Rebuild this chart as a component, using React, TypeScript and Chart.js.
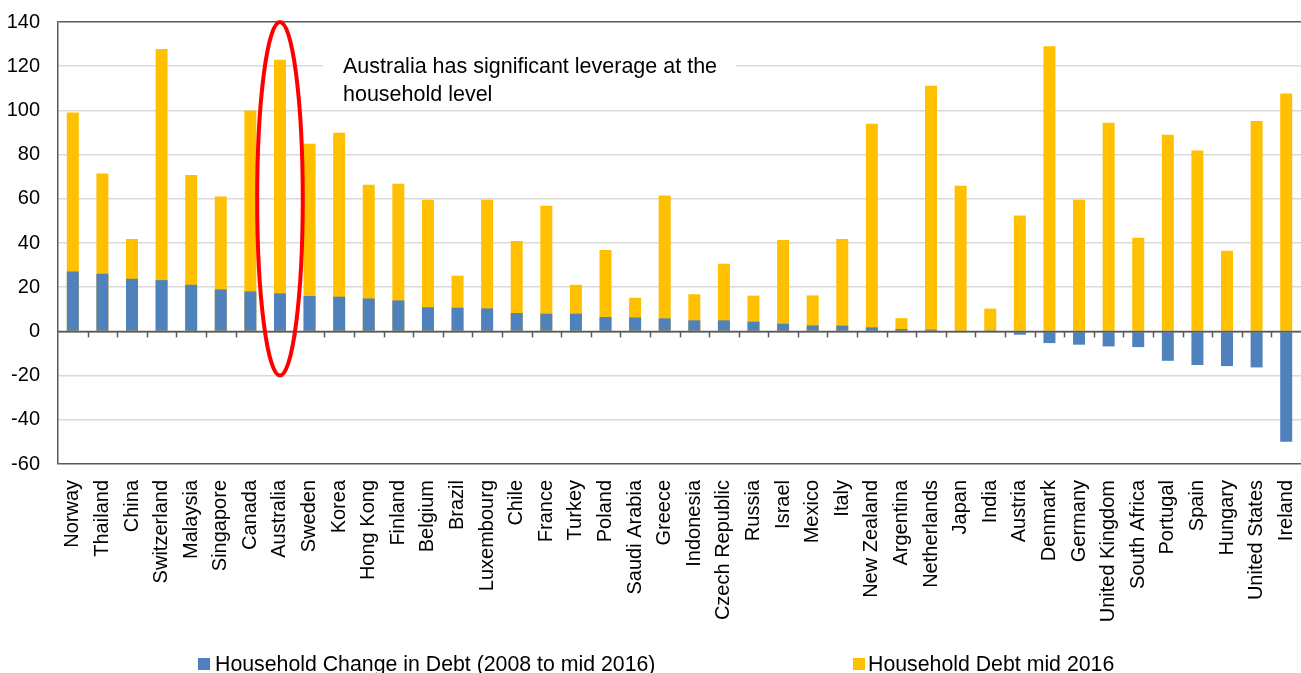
import React, { useEffect, useRef } from "react";
import { Chart, registerables } from "chart.js";

Chart.register(...registerables);

const countries = [
  "Norway", "Thailand", "China", "Switzerland", "Malaysia", "Singapore", "Canada", "Australia",
  "Sweden", "Korea", "Hong Kong", "Finland", "Belgium", "Brazil", "Luxembourg", "Chile",
  "France", "Turkey", "Poland", "Saudi Arabia", "Greece", "Indonesia", "Czech Republic", "Russia",
  "Israel", "Mexico", "Italy", "New Zealand", "Argentina", "Netherlands", "Japan", "India",
  "Austria", "Denmark", "Germany", "United Kingdom", "South Africa", "Portugal", "Spain", "Hungary",
  "United States", "Ireland",
];

const changeInDebt = [
  27.1, 26.1, 23.8, 23.2, 21.1, 19.0, 18.1, 17.2,
  16.0, 15.7, 14.9, 14.0, 10.9, 10.7, 10.4, 8.3,
  8.0, 8.0, 6.5, 6.3, 5.9, 5.0, 5.0, 4.4,
  3.5, 2.7, 2.6, 1.8, 1.1, 0.8, 0.3, 0.2,
  -1.5, -5.3, -6.0, -6.8, -7.1, -13.3, -15.2, -15.7,
  -16.3, -49.9,
];

const debtMid2016 = [
  99.0, 71.4, 41.8, 127.8, 70.8, 61.0, 99.9, 122.9,
  84.9, 89.9, 66.4, 66.8, 59.6, 25.2, 59.6, 40.9,
  56.9, 21.1, 36.8, 15.2, 61.5, 16.8, 30.6, 16.2,
  41.4, 16.3, 41.8, 94.0, 6.0, 111.2, 65.9, 10.3,
  52.4, 129.0, 59.6, 94.4, 42.4, 89.0, 81.9, 36.5,
  95.2, 107.7,
];

const seriesLabels = ["Household Change in Debt (2008 to mid 2016)", "Household Debt mid 2016"];
const seriesColors = ["#4F81BD", "#FFC000"];

const yMin = -60;
const yMax = 140;
const yStep = 20;

const annotationLines = ["Australia has significant leverage at the", "household level"];
const highlightCountry = "Australia";
const highlightRange = [-20, 140];

const FONT = "'Liberation Sans', Arial, Helvetica, sans-serif";
const AXIS_DARK = "#595959";
const GRID_LIGHT = "#D9D9D9";

const overlayPlugin = {
  id: "overlay",
  afterDatasetsDraw(chart: any) {
    const { ctx, chartArea, scales } = chart;
    const x = scales.x;
    const y = scales.y;
    const y0 = y.getPixelForValue(0);
    ctx.save();
    ctx.strokeStyle = AXIS_DARK;
    ctx.lineWidth = 1.5;
    ctx.beginPath();
    ctx.moveTo(chartArea.left, y0);
    ctx.lineTo(chartArea.right, y0);
    ctx.stroke();
    const step = x.getPixelForValue(1) - x.getPixelForValue(0);
    for (let i = 1; i < countries.length; i++) {
      const px = Math.round(x.getPixelForValue(i) - step / 2) + 0.5;
      ctx.beginPath();
      ctx.moveTo(px, y0);
      ctx.lineTo(px, y0 + 6);
      ctx.stroke();
    }
    ctx.restore();
  },
  afterDraw(chart: any) {
    const { ctx, scales } = chart;
    const x = scales.x;
    const y = scales.y;
    const idx = countries.indexOf(highlightCountry);
    const cx = x.getPixelForValue(idx);
    const step = x.getPixelForValue(1) - x.getPixelForValue(0);
    const yTop = y.getPixelForValue(highlightRange[1]);
    const yBot = y.getPixelForValue(highlightRange[0]);
    ctx.save();
    const boxLeft = cx + 43;
    const boxRight = cx + 456;
    const boxTop = y.getPixelForValue(129);
    const boxBottom = y.getPixelForValue(104);
    ctx.fillStyle = "#FFFFFF";
    ctx.fillRect(boxLeft, boxTop, boxRight - boxLeft, boxBottom - boxTop);
    ctx.fillStyle = "#000000";
    ctx.font = `21.5px ${FONT}`;
    ctx.textBaseline = "alphabetic";
    ctx.textAlign = "left";
    annotationLines.forEach((line, i) => {
      ctx.fillText(line, cx + 63, boxTop + 27 + i * 28);
    });
    ctx.strokeStyle = "#FF0000";
    ctx.lineWidth = 4;
    ctx.beginPath();
    ctx.ellipse(cx, (yTop + yBot) / 2, step * 0.77, (yBot - yTop) / 2, 0, 0, Math.PI * 2);
    ctx.stroke();
    const legendY = 664;
    const items = [
      { x: 198, textX: 215 },
      { x: 853, textX: 868 },
    ];
    ctx.font = `21.3px ${FONT}`;
    ctx.textBaseline = "middle";
    items.forEach((it, i) => {
      ctx.fillStyle = seriesColors[i];
      ctx.fillRect(it.x, legendY - 6, 12, 12);
      ctx.fillStyle = "#000000";
      ctx.fillText(seriesLabels[i], it.textX, legendY + 1);
    });
    ctx.restore();
  },
};

export default function App() {
  const canvasRef = useRef<HTMLCanvasElement | null>(null);

  useEffect(() => {
    if (!canvasRef.current) return;
    const chart = new Chart(canvasRef.current, {
      type: "bar",
      data: {
        labels: countries,
        datasets: [
          {
            label: seriesLabels[0],
            data: changeInDebt,
            backgroundColor: seriesColors[0],
            borderWidth: 0,
            barPercentage: 0.405,
            categoryPercentage: 1,
          },
          {
            label: seriesLabels[1],
            data: debtMid2016,
            backgroundColor: seriesColors[1],
            borderWidth: 0,
            barPercentage: 0.405,
            categoryPercentage: 1,
          },
        ],
      },
      options: {
        animation: false,
        responsive: true,
        maintainAspectRatio: false,
        layout: { padding: { top: 22, right: 0, bottom: 0, left: 0 } },
        plugins: {
          legend: { display: false },
          tooltip: { enabled: false },
        },
        scales: {
          x: {
            stacked: true,
            grid: { display: false },
            border: { display: false },
            ticks: {
              autoSkip: false,
              maxRotation: 90,
              minRotation: 90,
              padding: 8,
              color: "#000000",
              font: { family: FONT, size: 20 },
            },
            afterFit(scale: any) {
              scale.height = 209;
              scale.paddingLeft = 0;
              scale.paddingRight = 0;
            },
          },
          y: {
            stacked: false,
            min: yMin,
            max: yMax,
            ticks: {
              stepSize: yStep,
              padding: 18,
              color: "#000000",
              font: { family: FONT, size: 20 },
            },
            grid: {
              drawTicks: false,
              lineWidth: 1.5,
              color: (c: any) => {
                const v = c.tick ? c.tick.value : null;
                return v === yMin || v === yMax || v === 0 ? AXIS_DARK : GRID_LIGHT;
              },
            },
            border: { display: true, color: AXIS_DARK, width: 1.5 },
            afterFit(scale: any) {
              scale.width = 58;
              scale.paddingTop = 0;
              scale.paddingBottom = 0;
            },
          },
        },
      },
      plugins: [overlayPlugin],
    });
    return () => chart.destroy();
  }, []);

  return (
    <div style={{ position: "absolute", left: 0, top: 0, width: 1301, height: 673, background: "#fff" }}>
      <canvas ref={canvasRef} />
    </div>
  );
}
